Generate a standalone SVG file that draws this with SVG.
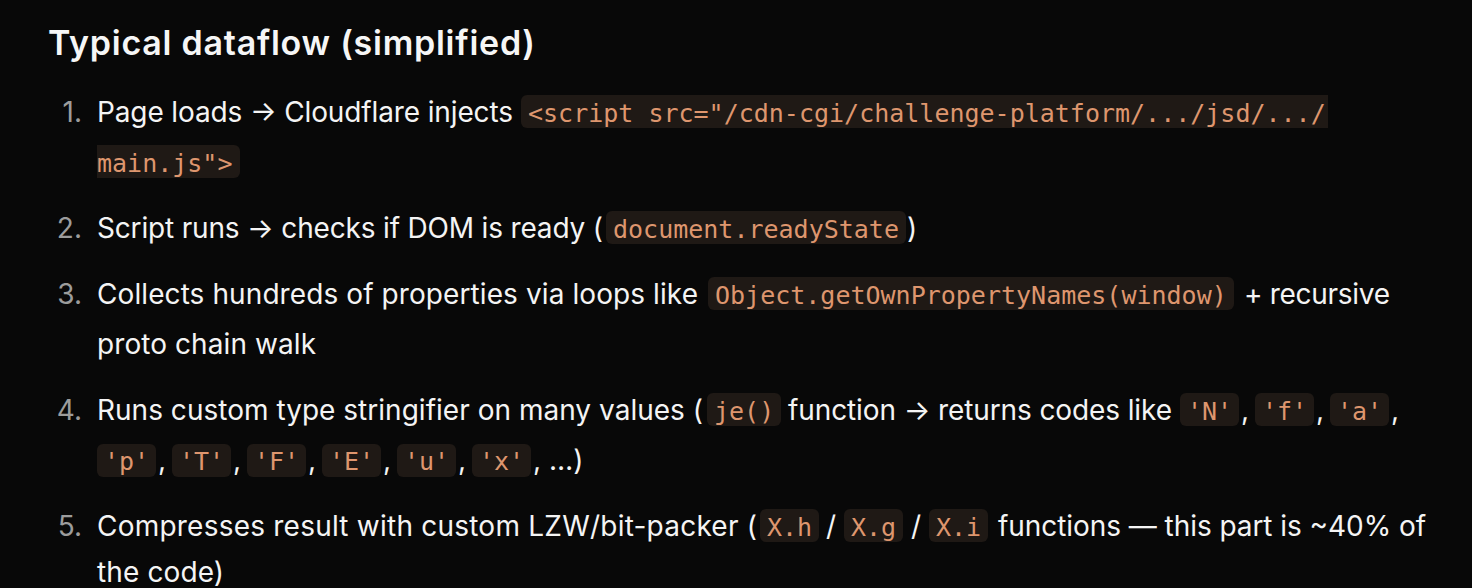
<svg xmlns="http://www.w3.org/2000/svg" width="1472" height="588" viewBox="0 0 1472 588">
<style>
.t{font-family:Inter,"Noto Sans","Liberation Sans",sans-serif;font-size:28px;fill:#f4f4f4}
.n{font-family:Inter,"Noto Sans","Liberation Sans",sans-serif;font-size:28px;fill:#9c9c9c;text-anchor:end}
.h{font-family:Inter,"Noto Sans","Liberation Sans",sans-serif;font-size:34px;font-weight:600;fill:#f6f6f6}
.c{font-family:"DejaVu Sans Mono","Liberation Mono",monospace;font-size:25px;fill:#de966e}
.b{fill:#1f1915}
</style>
<rect width="1472" height="588" fill="#080808"/>
<text id="title" class="h" x="48" y="55" textLength="487" lengthAdjust="spacing">Typical dataflow (simplified)</text>

<g id="item1">
<text class="n" x="82" y="122">1.</text>
<text class="t" x="97" y="122" textLength="416" lengthAdjust="spacing">Page loads → Cloudflare injects</text>
<path class="b" d="M527,95H1328V128H527A6,6 0 0 1 521,122V101A6,6 0 0 1 527,95Z"/>
<text class="c" x="528" y="122">&lt;script src="/cdn-cgi/challenge-platform/.../jsd/.../</text>
<path class="b" d="M97,145H234A6,6 0 0 1 240,151V172A6,6 0 0 1 234,178H97Z"/>
<text class="c" x="97" y="172">main.js"&gt;</text>
</g>

<g id="item2">
<text class="n" x="82" y="238">2.</text>
<text class="t" x="97" y="238" textLength="506" lengthAdjust="spacing">Script runs → checks if DOM is ready (</text>
<rect class="b" x="606" y="211" width="300" height="33" rx="6"/>
<text class="c" x="613" y="238">document.readyState</text>
<text class="t" x="907" y="238">)</text>
</g>

<g id="item3">
<text class="n" x="82" y="304">3.</text>
<text class="t" x="97" y="304" textLength="601" lengthAdjust="spacing">Collects hundreds of properties via loops like</text>
<rect class="b" x="708" y="277" width="526" height="33" rx="6"/>
<text class="c" x="715" y="304">Object.getOwnPropertyNames(window)</text>
<text class="t" x="1244" y="304" textLength="146" lengthAdjust="spacing">+ recursive</text>
<text class="t" x="97" y="354" textLength="219" lengthAdjust="spacing">proto chain walk</text>
</g>

<g id="item4">
<text class="n" x="82" y="420">4.</text>
<text class="t" x="97" y="420" textLength="606" lengthAdjust="spacing">Runs custom type stringifier on many values (</text>
<rect class="b" x="707" y="393" width="74" height="33" rx="6"/>
<text class="c" x="714" y="420">je()</text>
<text class="t" x="788" y="420" textLength="384" lengthAdjust="spacing">function → returns codes like</text>
<rect class="b" x="1180" y="393" width="59" height="33" rx="6"/>
<text class="c" x="1187" y="420">'N'</text>
<text class="t" x="1241" y="420">,</text>
<rect class="b" x="1255" y="393" width="59" height="33" rx="6"/>
<text class="c" x="1262" y="420">'f'</text>
<text class="t" x="1316" y="420">,</text>
<rect class="b" x="1330" y="393" width="59" height="33" rx="6"/>
<text class="c" x="1337" y="420">'a'</text>
<text class="t" x="1391" y="420">,</text>

<rect class="b" x="97" y="444" width="59" height="33" rx="6"/>
<text class="c" x="104" y="470">'p'</text>
<text class="t" x="158" y="470">,</text>
<rect class="b" x="172" y="444" width="59" height="33" rx="6"/>
<text class="c" x="179" y="470">'T'</text>
<text class="t" x="233" y="470">,</text>
<rect class="b" x="247" y="444" width="59" height="33" rx="6"/>
<text class="c" x="254" y="470">'F'</text>
<text class="t" x="308" y="470">,</text>
<rect class="b" x="322" y="444" width="59" height="33" rx="6"/>
<text class="c" x="329" y="470">'E'</text>
<text class="t" x="383" y="470">,</text>
<rect class="b" x="397" y="444" width="59" height="33" rx="6"/>
<text class="c" x="404" y="470">'u'</text>
<text class="t" x="458" y="470">,</text>
<rect class="b" x="472" y="444" width="59" height="33" rx="6"/>
<text class="c" x="479" y="470">'x'</text>
<text class="t" x="533" y="470">, …)</text>
</g>

<g id="item5">
<text class="n" x="82" y="536">5.</text>
<text class="t" x="97" y="536" textLength="660" lengthAdjust="spacing">Compresses result with custom LZW/bit-packer (</text>
<rect class="b" x="760" y="509" width="59" height="33" rx="6"/>
<text class="c" x="767" y="536">X.h</text>
<text class="t" x="826" y="536">/</text>
<rect class="b" x="844" y="509" width="59" height="33" rx="6"/>
<text class="c" x="851" y="536">X.g</text>
<text class="t" x="911" y="536">/</text>
<rect class="b" x="929" y="509" width="59" height="33" rx="6"/>
<text class="c" x="936" y="536">X.i</text>
<text class="t" x="998" y="536" textLength="428" lengthAdjust="spacing">functions — this part is ~40% of</text>
<text class="t" x="97" y="582" textLength="127" lengthAdjust="spacing">the code)</text>
</g>
</svg>
